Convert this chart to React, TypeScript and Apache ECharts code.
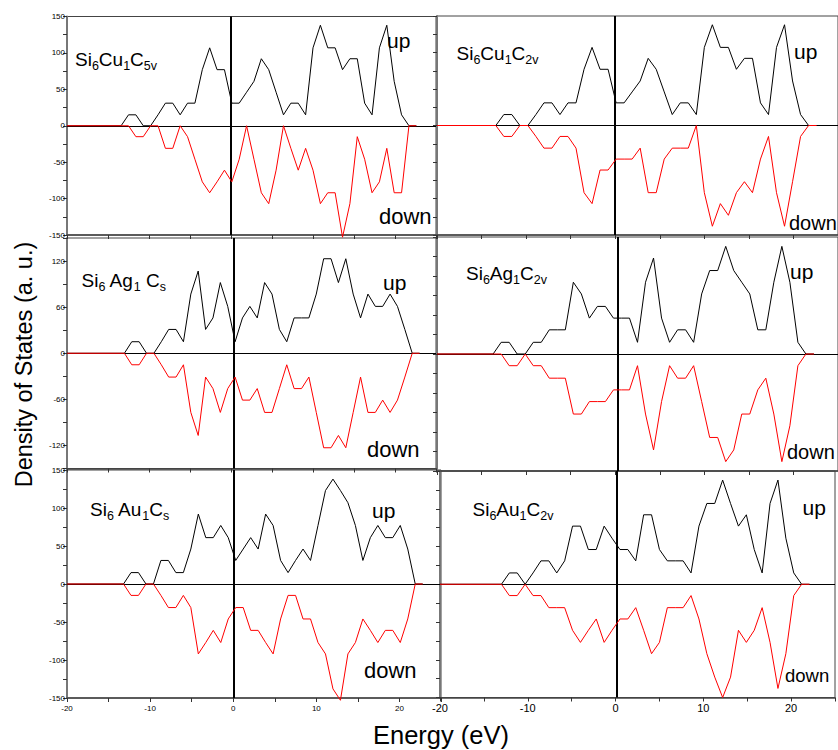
import React, { useEffect, useRef } from "react";
import * as echarts from "echarts";

// Energy grids (eV)
const energyA = [-20, -13.4, -12.5, -11.6, -10.7, -9.8, -8.9, -8.0, -7.1, -6.2, -5.3, -4.4, -3.5, -2.6, -1.7, -0.8, 0.1, 1.0, 1.9, 2.8, 3.7, 4.6, 5.5, 6.4, 7.3, 8.2, 9.1, 10.0, 10.9, 11.8, 12.7, 13.6, 14.5, 15.4, 16.3, 17.2, 18.1, 19.0, 19.9, 20.8, 21.7, 22.6];
const energyB = [-20, -13.0, -12.1, -11.2, -10.3, -9.4, -8.5, -7.6, -6.7, -5.8, -4.9, -4.0, -3.1, -2.2, -1.3, -0.4, 0.5, 1.4, 2.3, 3.2, 4.1, 5.0, 5.9, 6.8, 7.7, 8.6, 9.5, 10.4, 11.3, 12.2, 13.1, 14.0, 14.9, 15.8, 16.7, 17.6, 18.5, 19.4, 20.3, 21.2, 22.1, 23.0];
const energyC = [-20, -13.7, -12.8, -11.9, -11.0, -10.1, -9.2, -8.3, -7.4, -6.5, -5.6, -4.7, -3.8, -2.9, -2.0, -1.1, -0.2, 0.7, 1.6, 2.5, 3.4, 4.3, 5.2, 6.1, 7.0, 7.9, 8.8, 9.7, 10.6, 11.5, 12.4, 13.3, 14.2, 15.1, 16.0, 16.9, 17.8, 18.7, 19.6, 20.5, 21.4, 22.3];
const energyD = [-20, -13.2, -12.3, -11.4, -10.5, -9.6, -8.7, -7.8, -6.9, -6.0, -5.1, -4.2, -3.3, -2.4, -1.5, -0.6, 0.3, 1.2, 2.1, 3.0, 3.9, 4.8, 5.7, 6.6, 7.5, 8.4, 9.3, 10.2, 11.1, 12.0, 12.9, 13.8, 14.7, 15.6, 16.5, 17.4, 18.3, 19.2, 20.1, 21.0, 21.9, 22.8];

// Spin-up / spin-down DOS (a. u.)
const upCuC5v = [0, 0, 15, 15, 0, 0, 15, 31, 31, 15, 31, 31, 77, 107, 77, 77, 31, 31, 46, 61, 92, 77, 46, 15, 31, 31, 15, 107, 138, 107, 107, 77, 92, 92, 31, 15, 107, 138, 61, 15, 0, 0];
const downCuC5v = [0, 0, 0, -15, -15, 0, 0, -31, -31, 0, -15, -46, -77, -92, -77, -61, -77, -46, 0, -46, -92, -107, -61, 0, -31, -61, -31, -61, -107, -92, -92, -153, -107, -15, -46, -92, -77, -31, -92, -92, 0, 0];
const upCuC2v = [0, 0, 15, 15, 0, 0, 15, 31, 31, 15, 31, 31, 77, 107, 77, 77, 31, 31, 46, 61, 92, 77, 46, 15, 31, 31, 15, 107, 138, 107, 107, 77, 92, 92, 31, 15, 107, 138, 61, 15, 0, 0];
const downCuC2v = [0, 0, -15, -15, 0, 0, -15, -31, -31, -15, -15, -31, -92, -107, -61, -61, -46, -46, -46, -31, -92, -92, -46, -31, -31, -31, 0, -92, -138, -107, -123, -92, -77, -92, -46, -15, -92, -138, -77, -15, 0, 0];
const upAgCs = [0, 0, 15, 15, 0, 0, 15, 31, 31, 15, 77, 107, 31, 46, 92, 61, 15, 46, 61, 46, 92, 77, 31, 15, 46, 46, 46, 77, 123, 123, 92, 123, 77, 46, 77, 61, 61, 77, 61, 31, 0, 0];
const downAgCs = [0, 0, -15, -15, 0, 0, -15, -31, -31, -15, -77, -107, -31, -46, -77, -46, -31, -61, -61, -46, -77, -77, -46, -15, -46, -46, -31, -77, -123, -123, -107, -123, -77, -31, -77, -77, -61, -77, -61, -31, 0, 0];
const upAgC2v = [0, 0, 15, 15, 0, 0, 15, 15, 31, 31, 31, 92, 77, 46, 61, 61, 46, 46, 46, 15, 92, 123, 46, 15, 31, 31, 15, 77, 107, 107, 138, 107, 92, 77, 31, 31, 92, 138, 92, 15, 0, 0];
const downAgC2v = [0, 0, 0, -15, -15, 0, -15, -15, -31, -31, -31, -77, -77, -61, -61, -61, -46, -46, -46, -15, -77, -123, -61, -15, -31, -31, -15, -61, -107, -107, -138, -123, -77, -77, -46, -31, -77, -138, -92, -15, 0, 0];
const upAuCs = [0, 0, 15, 15, 0, 0, 31, 31, 15, 15, 46, 92, 61, 61, 77, 61, 31, 46, 61, 46, 92, 77, 31, 15, 31, 46, 31, 77, 123, 138, 123, 107, 77, 31, 61, 77, 61, 61, 77, 46, 0, 0];
const downAuCs = [0, 0, -15, -15, 0, 0, -15, -31, -31, -15, -31, -92, -77, -61, -77, -46, -31, -31, -61, -61, -77, -92, -46, -15, -15, -46, -46, -77, -92, -138, -153, -92, -77, -46, -61, -77, -61, -61, -77, -46, 0, 0];
const upAuC2v = [0, 0, 15, 15, 0, 15, 31, 31, 15, 31, 77, 77, 46, 46, 77, 61, 46, 46, 31, 92, 92, 46, 31, 31, 31, 15, 77, 107, 107, 138, 107, 77, 92, 46, 15, 107, 138, 61, 15, 0, 0];
const downAuC2v = [0, 0, -15, -15, 0, -15, -15, -31, -31, -31, -61, -77, -61, -46, -77, -61, -46, -46, -31, -61, -92, -77, -31, -31, -31, -15, -46, -92, -123, -150, -123, -61, -77, -61, -31, -77, -138, -92, -15, 0, 0];

// Fermi-level (vertical) line position in each panel
const fermiLevels = [0, 0, 0.3, 0.3, 0.1, 0.15];

// Formula labels: [element, subscript] pairs
const formulaCuC5v = [["Si", "6"], ["Cu", "1"], ["C", "5v"]];
const formulaCuC2v = [["Si", "6"], ["Cu", "1"], ["C", "2v"]];
const formulaAgCs = [["Si", "6"], [" Ag", "1"], [" C", "s"]];
const formulaAgC2v = [["Si", "6"], ["Ag", "1"], ["C", "2v"]];
const formulaAuCs = [["Si", "6"], [" Au", "1"], ["C", "s"]];
const formulaAuC2v = [["Si", "6"], ["Au", "1"], ["C", "2v"]];

const xTickLabels = [-20, -10, 0, 10, 20];

const FONT = "'Liberation Sans', Arial, Helvetica, sans-serif";

const panels = [
  { energy: energyA, up: upCuC5v, down: downCuC5v, formula: formulaCuC5v,
    grid: { left: 67, top: 16.5, width: 369, height: 218.5 }, yInt: 25, yLab: 50, showY: true, showX: false, xFont: 8,
    titlePos: [75, 57], upPos: [387, 40.5], downPos: [379, 216.5], upSize: 21, downSize: 22 },
  { energy: energyA, up: upCuC2v, down: downCuC2v, formula: formulaCuC2v,
    grid: { left: 437, top: 16, width: 402, height: 219 }, yInt: 25, yLab: 50, showY: false, showX: false, xFont: 11,
    titlePos: [456.5, 51], upPos: [794, 51], downPos: [789, 222.5], upSize: 21, downSize: 20 },
  { energy: energyB, up: upAgCs, down: downAgCs, formula: formulaAgCs,
    grid: { left: 67, top: 238, width: 369, height: 230.5 }, yInt: 30, yLab: 60, showY: true, showX: false, xFont: 8,
    titlePos: [81.5, 278], upPos: [383, 282], downPos: [367, 449], upSize: 21, downSize: 22 },
  { energy: energyC, up: upAgC2v, down: downAgC2v, formula: formulaAgC2v,
    grid: { left: 437, top: 237, width: 402, height: 234 }, yInt: 25, yLab: 50, showY: false, showX: false, xFont: 11,
    titlePos: [466, 271], upPos: [790, 271], downPos: [787, 451.5], upSize: 21, downSize: 20 },
  { energy: energyD, up: upAuCs, down: downAuCs, formula: formulaAuCs,
    grid: { left: 67, top: 470, width: 374, height: 228 }, yInt: 25, yLab: 50, showY: true, showX: true, xFont: 8,
    titlePos: [90, 507], upPos: [372, 510], downPos: [364, 670.5], upSize: 21, downSize: 22 },
  { energy: energyB, up: upAuC2v, down: downAuC2v, formula: formulaAuC2v,
    grid: { left: 440, top: 471, width: 400, height: 226.5 }, yInt: 25, yLab: 50, showY: false, showX: true, xFont: 11,
    titlePos: [472.5, 507], upPos: [802.5, 507], downPos: [785, 675], upSize: 21, downSize: 18.5 },
];

function pairs(energy: number[], values: number[]) {
  return values.map((v, k) => [energy[k], v]);
}

export default function App() {
  const ref = useRef<HTMLDivElement>(null);
  useEffect(() => {
    if (!ref.current) return;
    const chart = echarts.init(ref.current, undefined, { renderer: "svg" });

    const grid = panels.map((p) => ({
      ...p.grid,
      show: true,
      borderColor: "#444",
      borderWidth: 1,
      backgroundColor: "transparent",
      containLabel: false,
    }));

    const xAxis = panels.map((p, i) => ({
      type: "value",
      gridIndex: i,
      min: -20,
      max: 25,
      interval: 5,
      axisLine: { show: true, onZero: false, lineStyle: { color: "#444", width: 1.5 } },
      axisTick: { show: true, inside: false, length: 4, lineStyle: { color: "#333", width: 1 } },
      axisLabel: {
        show: p.showX,
        fontSize: p.xFont,
        fontFamily: FONT,
        color: "#000",
        margin: p.xFont > 9 ? 5 : 6,
        formatter: (v: number) => (xTickLabels.includes(v) ? String(v) : ""),
      },
      splitLine: { show: false },
    }));

    const yAxis = panels.map((p, i) => ({
      type: "value",
      gridIndex: i,
      min: -150,
      max: 150,
      interval: p.yInt,
      axisLine: { show: true, onZero: false, lineStyle: { color: "#777", width: 2 } },
      axisTick: { show: true, inside: false, length: 4, lineStyle: { color: "#333", width: 1 } },
      axisLabel: {
        show: p.showY,
        fontSize: 8,
        fontFamily: FONT,
        color: "#000",
        margin: 2,
        formatter: (v: number) => (v % p.yLab === 0 ? String(v) : ""),
      },
      splitLine: { show: false },
    }));

    const series: any[] = [];
    panels.forEach((p, i) => {
      series.push({
        type: "line",
        xAxisIndex: i,
        yAxisIndex: i,
        data: pairs(p.energy, p.up),
        symbol: "none",
        showSymbol: false,
        clip: false,
        lineStyle: { color: "#000", width: 1 },
        itemStyle: { color: "#000" },
        z: 2,
        markLine: {
          silent: true,
          symbol: "none",
          label: { show: false },
          data: [
            { yAxis: 0, lineStyle: { color: "#000", width: 1, type: "solid" } },
            { xAxis: fermiLevels[i], lineStyle: { color: "#000", width: 2, type: "solid" } },
          ],
        },
      });
      series.push({
        type: "line",
        xAxisIndex: i,
        yAxisIndex: i,
        data: pairs(p.energy, p.down),
        symbol: "none",
        showSymbol: false,
        clip: false,
        lineStyle: { color: "#ff0000", width: 1 },
        itemStyle: { color: "#ff0000" },
        z: 5,
      });
    });

    const graphic: any[] = [];
    panels.forEach((p) => {
      const text = p.formula.map(([m, s]) => `{m|${m}}{s|${s}}`).join("");
      graphic.push({
        type: "text",
        x: p.titlePos[0],
        y: p.titlePos[1] + 2,
        z: 100,
        style: {
          text,
          verticalAlign: "middle",
          align: "left",
          rich: {
            m: { fontSize: 19, fontFamily: FONT, fill: "#000", lineHeight: 26, verticalAlign: "middle" },
            s: { fontSize: 12.5, fontFamily: FONT, fill: "#000", lineHeight: 12, verticalAlign: "bottom" },
          },
        },
      });
      graphic.push({
        type: "text",
        x: p.upPos[0],
        y: p.upPos[1],
        z: 100,
        style: { text: "up", fontSize: p.upSize, fontFamily: FONT, fill: "#000", verticalAlign: "middle", align: "left" },
      });
      graphic.push({
        type: "text",
        x: p.downPos[0],
        y: p.downPos[1],
        z: 100,
        style: { text: "down", fontSize: p.downSize, fontFamily: FONT, fill: "#000", verticalAlign: "middle", align: "left" },
      });
    });
    graphic.push({
      type: "text",
      x: 24,
      y: 364.5,
      rotation: Math.PI / 2,
      z: 100,
      style: { text: "Density of States (a. u.)", fontSize: 23.5, fontFamily: FONT, fill: "#000", align: "center", verticalAlign: "middle" },
    });
    graphic.push({
      type: "text",
      x: 441,
      y: 735,
      z: 100,
      style: { text: "Energy (eV)", fontSize: 25.5, fontFamily: FONT, fill: "#000", align: "center", verticalAlign: "middle" },
    });

    chart.setOption({
      animation: false,
      backgroundColor: "#fff",
      grid,
      xAxis,
      yAxis,
      series,
      graphic,
    });
    return () => chart.dispose();
  }, []);
  return <div ref={ref} style={{ position: "absolute", left: 0, top: 0, width: 838, height: 750 }} />;
}
